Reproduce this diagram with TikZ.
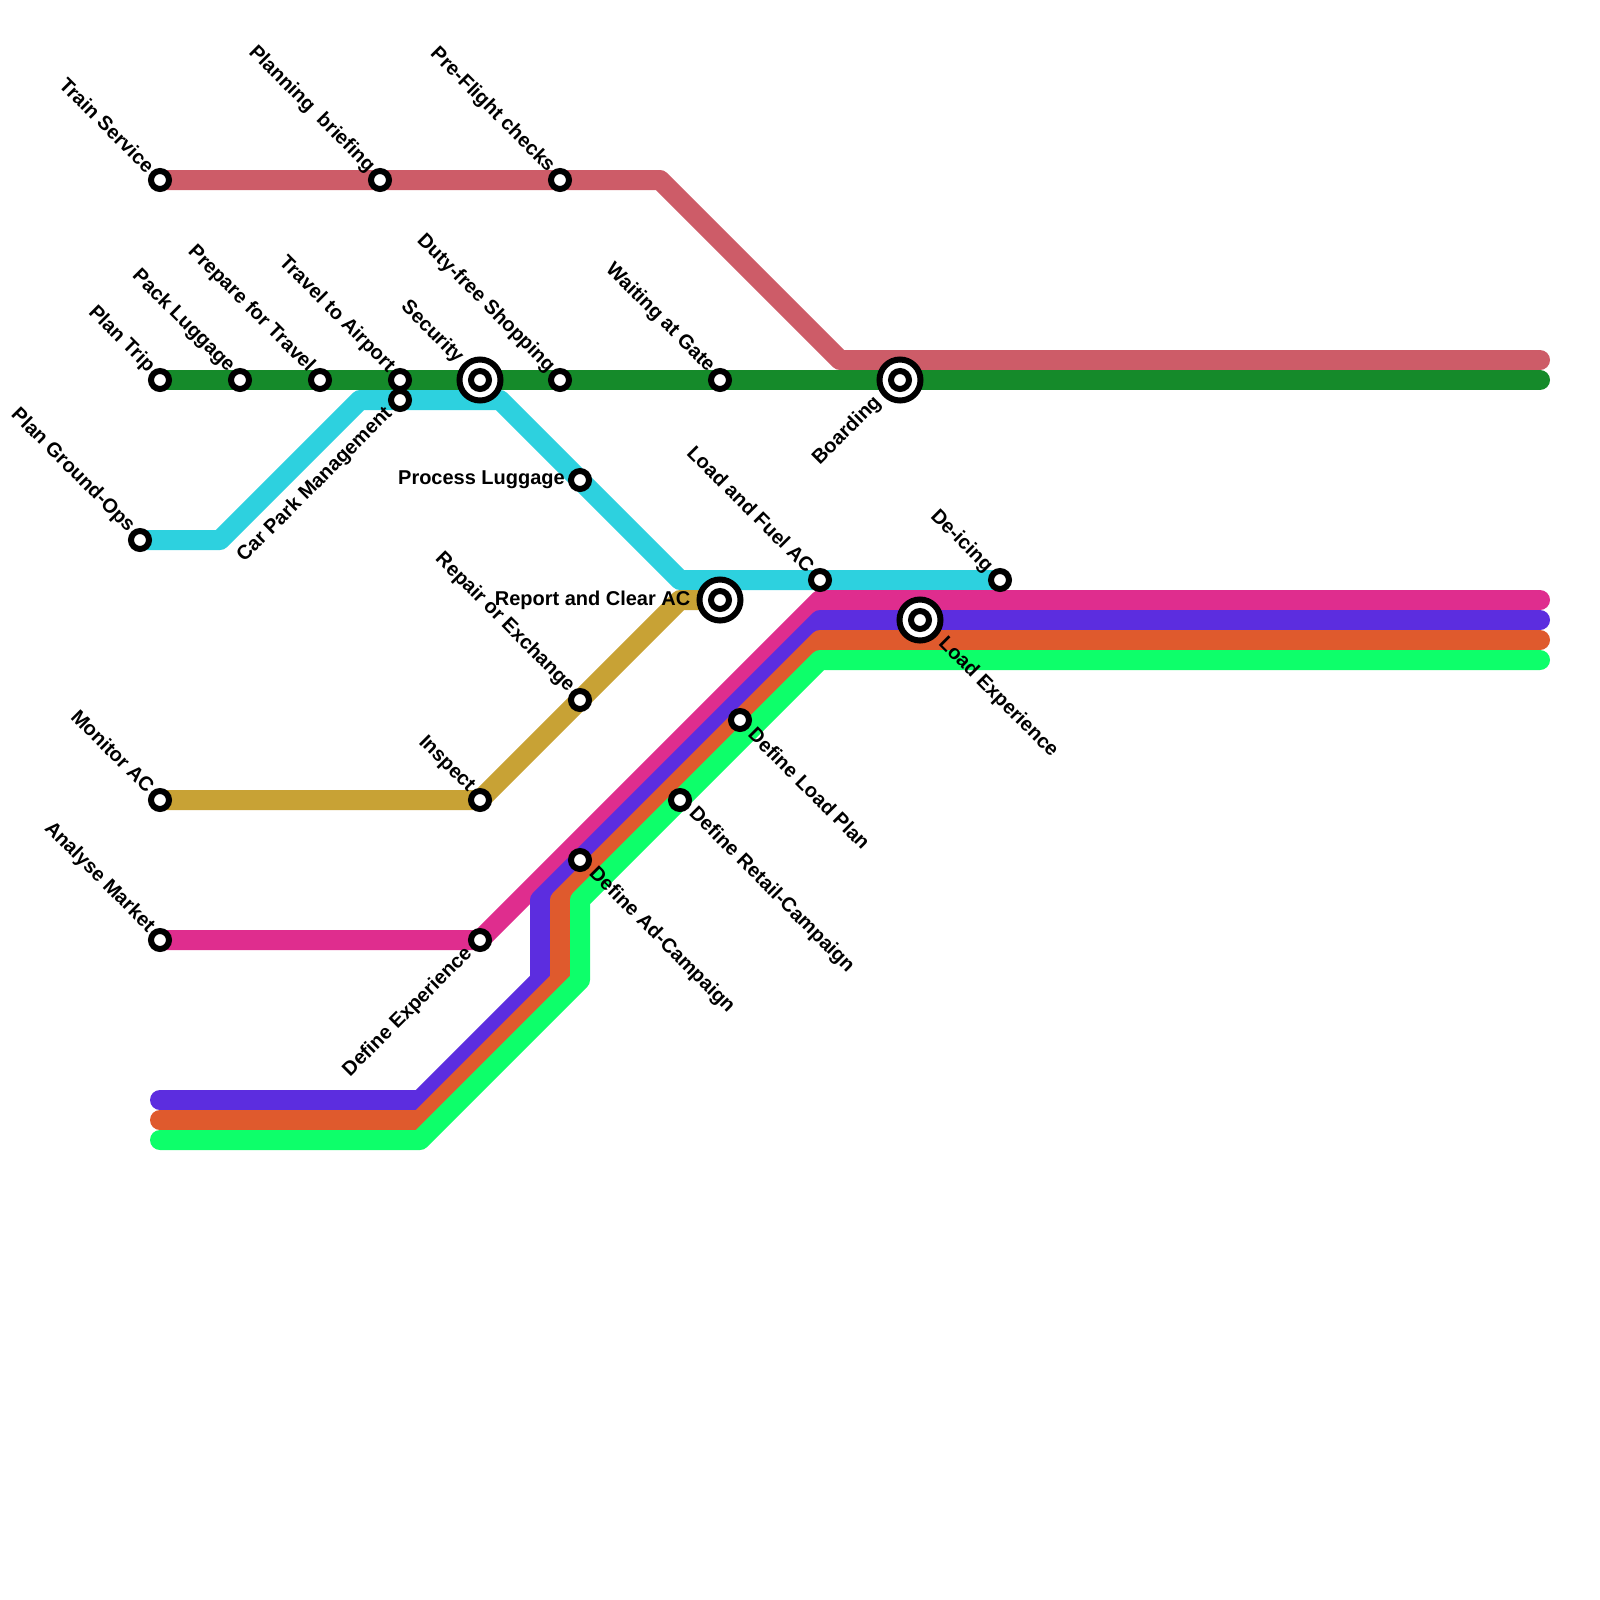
\documentclass[tikz,border=0pt]{standalone}
\usepackage{fontspec}
\setmainfont{Liberation Sans}
\usepackage{xcolor}
\usetikzlibrary{backgrounds}
\definecolor{lred}{HTML}{CD5C68}
\definecolor{lgreen}{HTML}{158A2A}
\definecolor{lcyan}{HTML}{2DD1DF}
\definecolor{lgold}{HTML}{C8A235}
\definecolor{lmagenta}{HTML}{DF2D8E}
\definecolor{lpurple}{HTML}{5C2DDF}
\definecolor{lorange}{HTML}{DF5A2D}
\definecolor{lmint}{HTML}{0DFF6A}
\begin{document}
\begin{tikzpicture}[
			x=0.25cm,
			y=-0.25cm,
			font=\fontsize{7.11}{8.5}\selectfont\bfseries,
			track/.style={line width=0.25cm, line cap=round, line join=round},
			stn/.style={
				circle,
				draw=black,
				fill=white,
				line width=0.075cm,
				inner sep=0pt,
				minimum size=0.225cm
			},
			ring/.style={
				circle,
				draw=black,
				fill=white,
				line width=0.075cm,
				inner sep=0pt,
				minimum size=0.5125cm
			},
			labnw/.style={xshift=0.025cm, anchor=east, rotate=-45, inner sep=1pt},
			labsw/.style={anchor=east, rotate=45, inner sep=1pt},
			labse/.style={xshift=0.015cm, anchor=west, rotate=-45, inner sep=1pt},
			labw/.style={anchor=east, inner sep=2pt}
			]
			
			\useasboundingbox (0,0) rectangle (80,80);
			
			\node[stn] (s1) at (8,9) {};
			\node[stn] (s2) at (19,9) {};
			\node[stn] (s3) at (28,9) {};
			\node[stn] (s4) at (8,19) {};
			\node[stn] (s5) at (12,19) {};
			\node[stn] (s6) at (16,19) {};
			\node[stn] (s7) at (20,19) {};
			\node[ring] (r1) at (24,19) {};
			\node[stn] (s8) at (24,19) {};
			\node[stn] (s9) at (28,19) {};
			\node[stn] (s10) at (36,19) {};
			\node[ring] (r2) at (45,19) {};
			\node[stn] (s11) at (45,19) {};
			\node[stn] (s12) at (7,27) {};
			\node[stn] (s13) at (20,20) {};
			\node[stn] (s14) at (29,24) {};
			\node[stn] (s15) at (41,29) {};
			\node[stn] (s16) at (50,29) {};
			\node[ring] (r3) at (36,30) {};
			\node[stn] (s17) at (36,30) {};
			\node[stn] (s18) at (29,35) {};
			\node[stn] (s19) at (8,40) {};
			\node[stn] (s20) at (24,40) {};
			\node[stn] (s21) at (8,47) {};
			\node[stn] (s22) at (24,47) {};
			\node[ring] (r4) at (46,31) {};
			\node[stn] (s23) at (46,31) {};
			\node[stn] (s24) at (37,36) {};
			\node[stn] (s25) at (34,40) {};
			\node[stn] (s26) at (29,43) {};
			
			\coordinate (e1) at (77,18);
			\coordinate (e2) at (77,19);
			\coordinate (e3) at (77,30);
			\coordinate (e4) at (77,31);
			\coordinate (e5) at (77,32);
			\coordinate (e6) at (77,33);
			\coordinate (b1) at (8,55);
			\coordinate (b2) at (8,56);
			\coordinate (b3) at (8,57);
			
			\begin{scope}[on background layer]
				\draw[track, lred] (s1.center) -- (s3.center) -- (33,9) -- (42,18) -- (e1);
				\draw[track, lgreen] (s4.center) -- (e2);
				\draw[track, lcyan] (s12.center) -- (11,27) -- (18,20) -- (25,20) -- (34,29) -- (s16.center);
				\draw[track, lgold] (s19.center) -- (s20.center) -- (34,30) -- (s17.center);
				\draw[track, lmagenta] (s21.center) -- (s22.center) -- (41,30) -- (e3);
				\draw[track, lpurple] (b1) -- (21,55) -- (27,49) -- (27,45) -- (41,31) -- (e4);
				\draw[track, lorange] (b2) -- (21,56) -- (28,49) -- (28,45) -- (41,32) -- (e5);
				\draw[track, lmint] (b3) -- (21,57) -- (29,49) -- (29,45) -- (41,33) -- (e6);
			\end{scope}
			
			\node[labnw] (l1) at (s1.north west) {Train Service};
			\node[labnw] (l2) at (s2.north west) {Planning\ \ briefing};
			\node[labnw] (l3) at (s3.north west) {Pre-Flight checks};
			\node[labnw] (l4) at (s4.north west) {Plan Trip};
			\node[labnw] (l5) at (s5.north west) {Pack Luggage};
			\node[labnw] (l6) at (s6.north west) {Prepare for Travel};
			\node[labnw] (l7) at (s7.north west) {Travel to Airport};
			\node[labnw] (l8) at ([shift={(-0.04cm,0.0125cm)}]r1.north west) {Security};
			\node[labnw] (l9) at (s9.north west) {Duty-free Shopping};
			\node[labnw] (l10) at (s10.north west) {Waiting at Gate};
			\node[labsw] (l11) at ([shift={(-0.035cm,-0.0125cm)}]r2.south west) {Boarding};
			\node[labnw] (l12) at (s12.north west) {Plan Ground-Ops};
			\node[labsw] (l13) at (s13.south west) {Car Park Management};
			\node[labw] (l14) at ([xshift=0.0375cm]s14.west) {Process Luggage};
			\node[labnw] (l15) at (s15.north west) {Load and Fuel AC};
			\node[labnw] (l16) at ([xshift=-0.025cm]s16.north west) {De-icing};
			\node[labw] (l17) at (r3.west) {Report and Clear AC};
			\node[labnw] (l18) at (s18.north west) {Repair or Exchange};
			\node[labnw] (l19) at (s19.north west) {Monitor AC};
			\node[labnw] (l20) at (s20.north west) {Inspect};
			\node[labnw] (l21) at (s21.north west) {Analyse Market};
			\node[labsw] (l22) at (s22.south west) {Define Experience};
			\node[labse] (l23) at ([shift={(0.015cm,-0.025cm)}]r4.south east) {Load Experience};
			\node[labse] (l24) at (s24.south east) {Define Load Plan};
			\node[labse] (l25) at (s25.south east) {Define Retail-Campaign};
			\node[labse] (l26) at (s26.south east) {Define Ad-Campaign};
			
		\end{tikzpicture}
\end{document}
